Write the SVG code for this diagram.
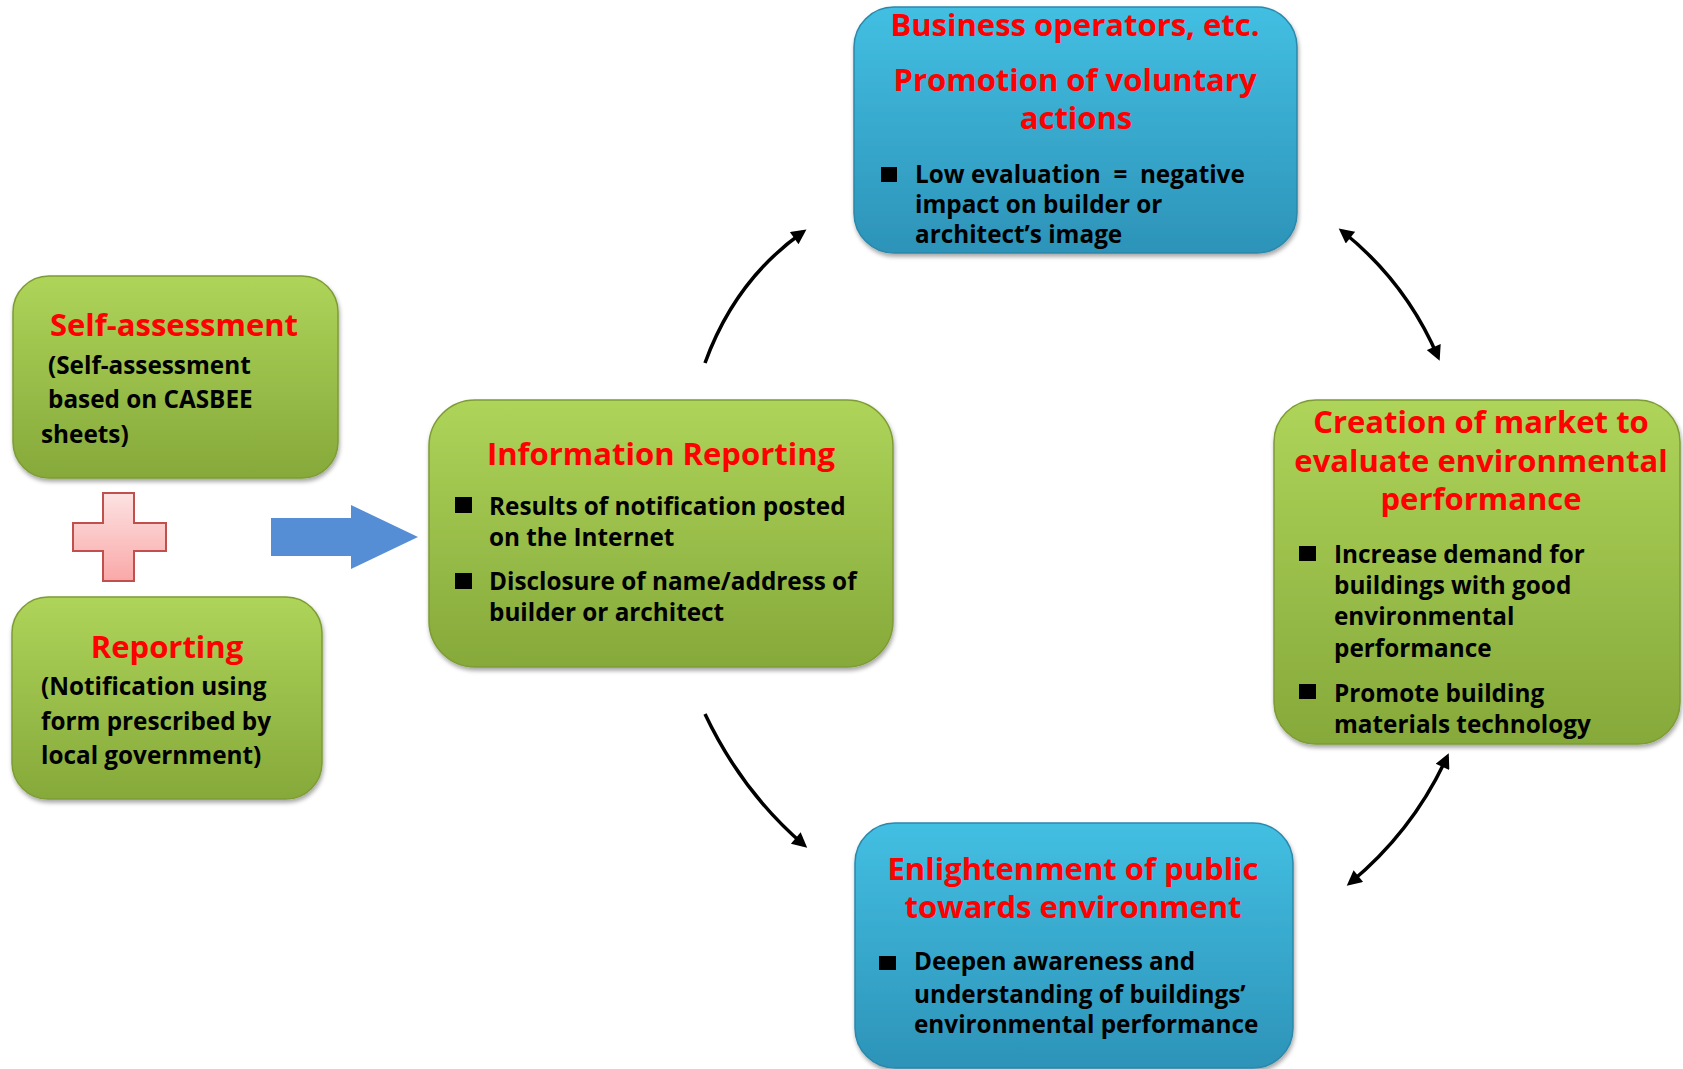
<svg xmlns="http://www.w3.org/2000/svg" width="1683" height="1069" viewBox="0 0 1683 1069">
<defs>
<linearGradient id="gGreen" x1="0" y1="0" x2="0" y2="1">
<stop offset="0" stop-color="#aed45a"/>
<stop offset="1" stop-color="#86a93a"/>
</linearGradient>
<linearGradient id="gBlue" x1="0" y1="0" x2="0" y2="1">
<stop offset="0" stop-color="#42bfe2"/>
<stop offset="1" stop-color="#2d93b8"/>
</linearGradient>
<linearGradient id="gPink" x1="0" y1="0" x2="0" y2="1">
<stop offset="0" stop-color="#fde2e2"/>
<stop offset="1" stop-color="#faa8a8"/>
</linearGradient>
<filter id="shadow" x="-10%" y="-10%" width="120%" height="125%">
<feDropShadow dx="1" dy="3" stdDeviation="2" flood-color="#000" flood-opacity="0.35"/>
</filter>
<marker id="ah" viewBox="0 0 10 10" refX="7.2" refY="5" markerUnits="userSpaceOnUse" markerWidth="18" markerHeight="15" orient="auto-start-reverse">
<path d="M0,0 L10,5 L0,10 z" fill="#000"/>
</marker>
</defs>
<style>
.green{fill:url(#gGreen);stroke:#7d9c34;stroke-width:1.5;filter:url(#shadow)}
.blue{fill:url(#gBlue);stroke:#2b88ab;stroke-width:1.5;filter:url(#shadow)}
.t{font-family:"Open Sans","Liberation Sans",sans-serif;font-weight:bold;fill:#ff0000;font-size:31px;text-anchor:middle}
.b{font-family:"Open Sans","Liberation Sans",sans-serif;font-weight:bold;fill:#000;font-size:24.3px;white-space:pre}
.sq{fill:#000}
.conn{fill:none;stroke:#000;stroke-width:3.5}
</style>

<g id="self-assessment">
<rect class="green" x="13" y="276" width="325" height="202" rx="36"/>
<text class="t" x="174" y="336">Self-assessment</text>
<text class="b" x="48" y="374">(Self-assessment</text>
<text class="b" x="48" y="408">based on CASBEE</text>
<text class="b" x="41" y="443">sheets)</text>
</g>

<g id="plus">
<polygon points="103,493 134,493 134,523 166,523 166,551 134,551 134,581 103,581 103,551 73,551 73,523 103,523" fill="url(#gPink)" stroke="#c0504d" stroke-width="2"/>
</g>

<g id="reporting">
<rect class="green" x="12" y="597" width="310" height="202" rx="36"/>
<text class="t" x="167" y="658">Reporting</text>
<text class="b" x="41" y="695">(Notification using</text>
<text class="b" x="41" y="730">form prescribed by</text>
<text class="b" x="41" y="764">local government)</text>
</g>

<g id="big-arrow">
<polygon points="271,518 351,518 351,505 418,537 351,569 351,556 271,556" fill="#558ed5"/>
</g>

<g id="information-reporting">
<rect class="green" x="429" y="400" width="464" height="267" rx="46"/>
<text class="t" x="661" y="465">Information Reporting</text>
<rect class="sq" x="455" y="497" width="17" height="16"/>
<text class="b" x="489" y="515">Results of notification posted</text>
<text class="b" x="489" y="546">on the Internet</text>
<rect class="sq" x="455" y="573" width="17" height="16"/>
<text class="b" x="489" y="590">Disclosure of name/address of</text>
<text class="b" x="489" y="621">builder or architect</text>
</g>

<g id="business-operators">
<rect class="blue" x="854" y="7" width="443" height="246" rx="40"/>
<text class="t" x="1075" y="36">Business operators, etc.</text>
<text class="t" x="1075" y="91">Promotion of voluntary</text>
<text class="t" x="1076" y="129">actions</text>
<rect class="sq" x="881" y="167" width="16" height="15"/>
<text class="b" x="915" y="183">Low evaluation  =  negative</text>
<text class="b" x="915" y="213">impact on builder or</text>
<text class="b" x="915" y="243">architect’s image</text>
</g>

<g id="market-creation">
<rect class="green" x="1274" y="400" width="406" height="344" rx="42"/>
<text class="t" x="1481" y="433">Creation of market to</text>
<text class="t" x="1481" y="472">evaluate environmental</text>
<text class="t" x="1481" y="510">performance</text>
<rect class="sq" x="1299" y="546" width="17" height="15"/>
<text class="b" x="1334" y="563">Increase demand for</text>
<text class="b" x="1334" y="594">buildings with good</text>
<text class="b" x="1334" y="625">environmental</text>
<text class="b" x="1334" y="657">performance</text>
<rect class="sq" x="1299" y="684" width="17" height="15"/>
<text class="b" x="1334" y="702">Promote building</text>
<text class="b" x="1334" y="733">materials technology</text>
</g>

<g id="enlightenment">
<rect class="blue" x="855" y="823" width="438" height="245" rx="40"/>
<text class="t" x="1073" y="880">Enlightenment of public</text>
<text class="t" x="1073" y="918">towards environment</text>
<rect class="sq" x="879" y="956" width="17" height="14"/>
<text class="b" x="914" y="970">Deepen awareness and</text>
<text class="b" x="914" y="1003">understanding of buildings’</text>
<text class="b" x="914" y="1033">environmental performance</text>
</g>

<g id="connectors">
<path class="conn" d="M705,363 Q735,280 803,232" marker-end="url(#ah)"/>
<path class="conn" d="M1342,231 Q1406,282 1438,357" marker-start="url(#ah)" marker-end="url(#ah)"/>
<path class="conn" d="M705,714 Q742,792 804,845" marker-end="url(#ah)"/>
<path class="conn" d="M1447,757 Q1413,831 1350,883" marker-start="url(#ah)" marker-end="url(#ah)"/>
</g>
</svg>
